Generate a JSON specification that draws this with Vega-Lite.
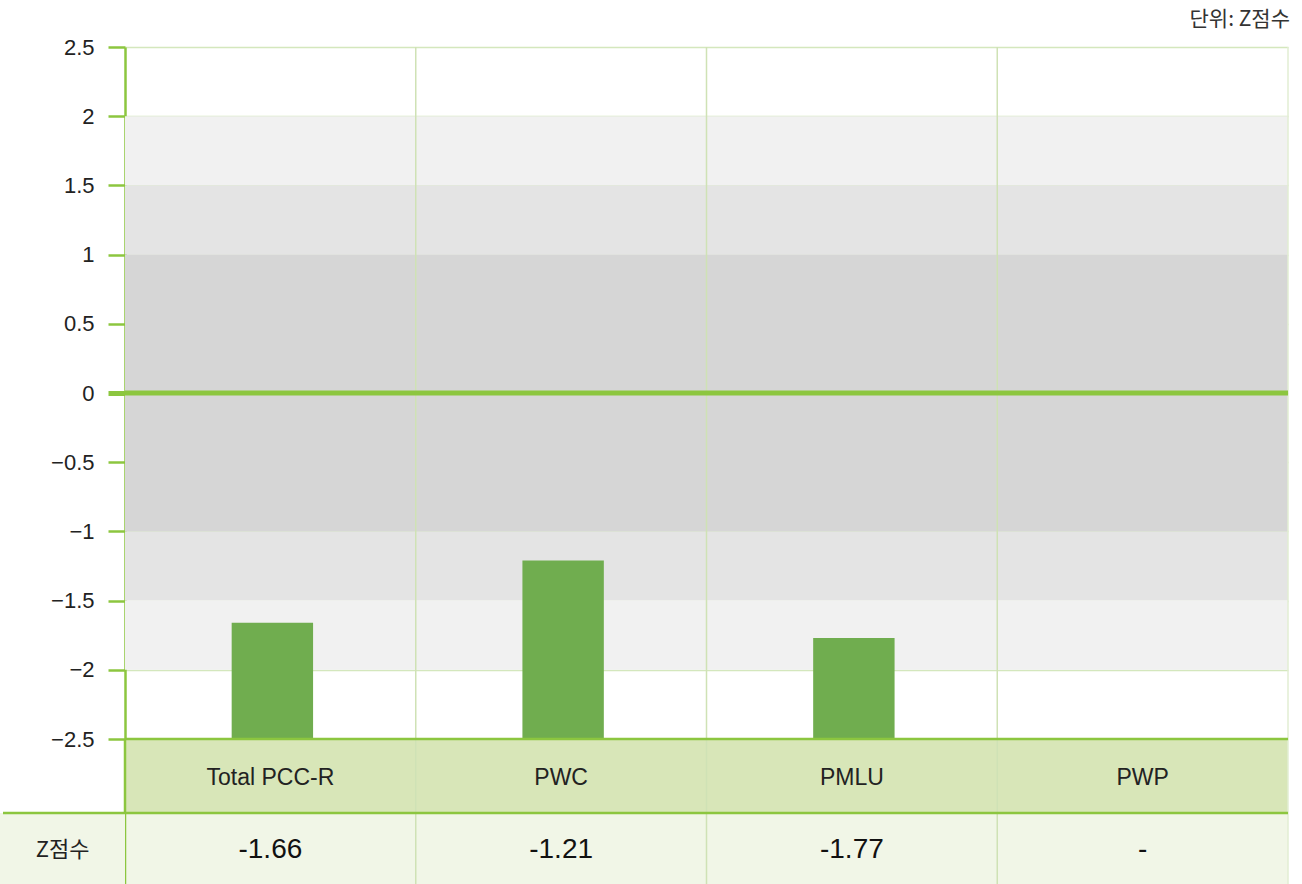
{
  "$schema": "https://vega.github.io/schema/vega-lite/v6.json",
  "width": 1163,
  "height": 692,
  "autosize": {"type": "none"},
  "padding": {"left": 125, "top": 47, "right": 14, "bottom": 145},
  "background": "white",
  "config": {"view": {"stroke": null}, "font": "Liberation Sans"},
  "datasets": {
    "scores": [
      {"cat": "Total PCC-R", "z": -1.66, "label": "-1.66"},
      {"cat": "PWC", "z": -1.21, "label": "-1.21"},
      {"cat": "PMLU", "z": -1.77, "label": "-1.77"},
      {"cat": "PWP", "z": null, "label": "-"}
    ],
    "bands": [
      {"lo": 1.5, "hi": 2, "zone": "1.5-2"},
      {"lo": 1, "hi": 1.5, "zone": "1-1.5"},
      {"lo": -1, "hi": 1, "zone": "0-1"},
      {"lo": -1.5, "hi": -1, "zone": "1-1.5"},
      {"lo": -2, "hi": -1.5, "zone": "1.5-2"}
    ],
    "unit": [{"t": "단위: Z점수", "cat": "PWP"}],
    "rowhead": [{"t": "Z점수"}]
  },
  "resolve": {"scale": {"x": "independent"}, "axis": {"x": "independent"}},
  "layer": [
    {
      "layer": [
        {
          "data": {"name": "bands"},
          "mark": {"type": "rect"},
          "encoding": {
            "y": {"field": "lo", "type": "quantitative", "scale": {"domain": [-2.5, 2.5], "nice": false, "zero": false},
              "axis": {
                "values": [2.5, 2, 1.5, 1, 0.5, 0, -0.5, -1, -1.5, -2, -2.5],
                "format": "~g",
                "title": null,
                "domainColor": "#8cc63f",
                "domainWidth": 2.5,
                "tickColor": "#8cc63f",
                "tickSize": 17,
                "tickWidth": {"condition": {"test": "datum.value === 0", "value": 5}, "value": 2.5},
                "labelFontSize": 22,
                "labelColor": "#222222",
                "labelFont": "Liberation Sans",
                "labelPadding": 14,
                "grid": true,
                "gridColor": "#d4e7bd",
                "gridWidth": 1.5
              }
            },
            "y2": {"field": "hi"},
            "color": {"field": "zone", "type": "nominal", "legend": null,
              "scale": {"domain": ["1.5-2", "1-1.5", "0-1"], "range": ["#f1f1f1", "#e4e4e4", "#d6d6d6"]}}
          }
        },
        {
          "data": {"name": "scores"},
          "mark": {"type": "rect", "color": "#d8e6b8"},
          "encoding": {
            "x": {"field": "cat", "type": "nominal", "sort": null, "axis": null,
              "scale": {"type": "band", "domain": ["Total PCC-R", "PWC", "PMLU", "PWP"], "paddingInner": 0, "paddingOuter": 0}},
            "y": {"datum": -2.5, "type": "quantitative", "scale": {"domain": [-2.5, 2.5], "nice": false, "zero": false}},
            "y2": {"datum": -3.035}
          }
        },
        {
          "data": {"name": "scores"},
          "mark": {"type": "rect", "color": "#f1f6e7"},
          "encoding": {
            "x": {"field": "cat", "type": "nominal", "sort": null, "axis": null,
              "scale": {"type": "band", "domain": ["Total PCC-R", "PWC", "PMLU", "PWP"], "paddingInner": 0, "paddingOuter": 0}},
            "y": {"datum": -3.035, "type": "quantitative", "scale": {"domain": [-2.5, 2.5], "nice": false, "zero": false}},
            "y2": {"datum": -3.55}
          }
        },
        {
          "data": {"name": "scores"},
          "transform": [{"filter": "datum.cat !== 'Total PCC-R'"}],
          "mark": {"type": "rule", "color": "#cfe2b5", "strokeWidth": 1.5},
          "encoding": {
            "x": {"field": "cat", "type": "nominal", "sort": null, "axis": null, "bandPosition": 0,
              "scale": {"type": "band", "domain": ["Total PCC-R", "PWC", "PMLU", "PWP"], "paddingInner": 0, "paddingOuter": 0}},
            "y": {"datum": 2.5, "type": "quantitative", "scale": {"domain": [-2.5, 2.5], "nice": false, "zero": false}},
            "y2": {"datum": -3.55}
          }
        },
        {
          "data": {"name": "scores"},
          "transform": [{"filter": "datum.cat === 'PWP'"}],
          "mark": {"type": "rule", "color": "#e2eed3", "strokeWidth": 1.5},
          "encoding": {
            "x": {"field": "cat", "type": "nominal", "sort": null, "axis": null, "bandPosition": 1,
              "scale": {"type": "band", "domain": ["Total PCC-R", "PWC", "PMLU", "PWP"], "paddingInner": 0, "paddingOuter": 0}},
            "y": {"datum": 2.5, "type": "quantitative", "scale": {"domain": [-2.5, 2.5], "nice": false, "zero": false}},
            "y2": {"datum": -3.55}
          }
        },
        {
          "data": {"name": "scores"},
          "transform": [{"filter": "datum.cat === 'Total PCC-R'"}],
          "mark": {"type": "rule", "color": "#8cc63f", "strokeWidth": 2.5},
          "encoding": {
            "x": {"field": "cat", "type": "nominal", "sort": null, "axis": null, "bandPosition": 0,
              "scale": {"type": "band", "domain": ["Total PCC-R", "PWC", "PMLU", "PWP"], "paddingInner": 0, "paddingOuter": 0}},
            "y": {"datum": -2.5, "type": "quantitative", "scale": {"domain": [-2.5, 2.5], "nice": false, "zero": false}},
            "y2": {"datum": -3.55}
          }
        },
        {
          "data": {"name": "scores"},
          "mark": {"type": "bar", "color": "#70ad4f", "width": {"band": 0.28}, "xOffset": 2},
          "encoding": {
            "x": {"field": "cat", "type": "nominal", "sort": null, "axis": null,
              "scale": {"type": "band", "domain": ["Total PCC-R", "PWC", "PMLU", "PWP"], "paddingInner": 0, "paddingOuter": 0}},
            "y": {"field": "z", "type": "quantitative", "scale": {"domain": [-2.5, 2.5], "nice": false, "zero": false}},
            "y2": {"datum": -2.5}
          }
        },
        {
          "data": {"name": "unit"},
          "mark": {"type": "rule", "color": "#8cc63f", "strokeWidth": 5},
          "encoding": {
            "y": {"datum": 0, "type": "quantitative", "scale": {"domain": [-2.5, 2.5], "nice": false, "zero": false}}
          }
        },
        {
          "data": {"name": "unit"},
          "mark": {"type": "rule", "color": "#8cc63f", "strokeWidth": 2.5},
          "encoding": {
            "y": {"datum": -2.5, "type": "quantitative", "scale": {"domain": [-2.5, 2.5], "nice": false, "zero": false}}
          }
        },
        {
          "data": {"name": "unit"},
          "mark": {"type": "rule", "color": "#8cc63f", "strokeWidth": 2.5},
          "encoding": {
            "y": {"datum": -3.035, "type": "quantitative", "scale": {"domain": [-2.5, 2.5], "nice": false, "zero": false}}
          }
        },
        {
          "data": {"name": "scores"},
          "mark": {"type": "text", "fontSize": 23, "color": "#222222", "font": "Liberation Sans", "baseline": "middle"},
          "encoding": {
            "x": {"field": "cat", "type": "nominal", "sort": null, "axis": null,
              "scale": {"type": "band", "domain": ["Total PCC-R", "PWC", "PMLU", "PWP"], "paddingInner": 0, "paddingOuter": 0}},
            "y": {"datum": -2.782, "type": "quantitative", "scale": {"domain": [-2.5, 2.5], "nice": false, "zero": false}},
            "text": {"field": "cat"}
          }
        },
        {
          "data": {"name": "scores"},
          "mark": {"type": "text", "fontSize": 28, "color": "#111111", "font": "Liberation Sans", "baseline": "middle"},
          "encoding": {
            "x": {"field": "cat", "type": "nominal", "sort": null, "axis": null,
              "scale": {"type": "band", "domain": ["Total PCC-R", "PWC", "PMLU", "PWP"], "paddingInner": 0, "paddingOuter": 0}},
            "y": {"datum": -3.3, "type": "quantitative", "scale": {"domain": [-2.5, 2.5], "nice": false, "zero": false}},
            "text": {"field": "label"}
          }
        },
        {
          "data": {"name": "unit"},
          "mark": {"type": "text", "fontSize": 21, "color": "#333333", "font": "Noto Sans CJK KR", "align": "right", "baseline": "middle", "dx": 2},
          "encoding": {
            "x": {"field": "cat", "type": "nominal", "sort": null, "axis": null, "bandPosition": 1,
              "scale": {"type": "band", "domain": ["Total PCC-R", "PWC", "PMLU", "PWP"], "paddingInner": 0, "paddingOuter": 0}},
            "y": {"datum": 2.695, "type": "quantitative", "scale": {"domain": [-2.5, 2.5], "nice": false, "zero": false}},
            "text": {"field": "t"}
          }
        }
      ]
    },
    {
      "data": {"name": "rowhead"},
      "layer": [
        {
          "mark": {"type": "rect", "color": "#f1f6e7"},
          "encoding": {
            "x": {"datum": 0, "type": "quantitative", "axis": null, "scale": {"domain": [0, 1], "range": [-125, 0], "nice": false, "zero": false}},
            "x2": {"datum": 1},
            "y": {"datum": -3.035, "type": "quantitative", "scale": {"domain": [-2.5, 2.5], "nice": false, "zero": false}},
            "y2": {"datum": -3.55}
          }
        },
        {
          "mark": {"type": "rule", "color": "#8cc63f", "strokeWidth": 2.5},
          "encoding": {
            "x": {"datum": 0.024, "type": "quantitative", "axis": null, "scale": {"domain": [0, 1], "range": [-125, 0], "nice": false, "zero": false}},
            "x2": {"datum": 1},
            "y": {"datum": -3.035, "type": "quantitative", "scale": {"domain": [-2.5, 2.5], "nice": false, "zero": false}}
          }
        },
        {
          "mark": {"type": "text", "fontSize": 22, "color": "#222222", "font": "Noto Sans CJK KR", "baseline": "middle"},
          "encoding": {
            "x": {"datum": 0.5, "type": "quantitative", "axis": null, "scale": {"domain": [0, 1], "range": [-125, 0], "nice": false, "zero": false}},
            "y": {"datum": -3.305, "type": "quantitative", "scale": {"domain": [-2.5, 2.5], "nice": false, "zero": false}},
            "text": {"field": "t"}
          }
        }
      ]
    }
  ]
}
